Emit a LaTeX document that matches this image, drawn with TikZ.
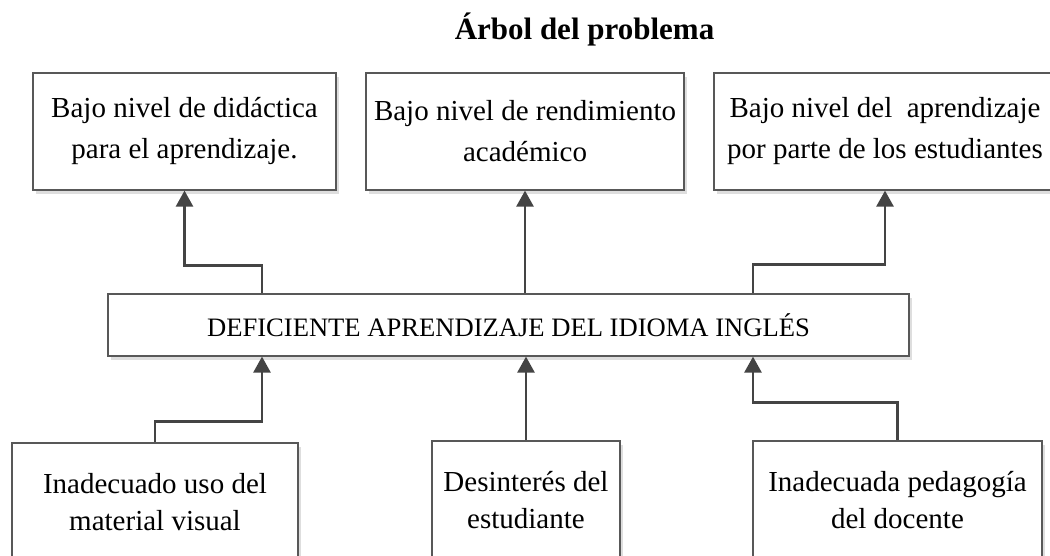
\documentclass[tikz,border=0pt]{standalone}
\usepackage{fontspec}
\setmainfont{Liberation Serif}
\usepackage{tikz}
\usetikzlibrary{arrows.meta,shadows}

\definecolor{boxline}{RGB}{88,88,88}
\definecolor{arrline}{RGB}{68,68,68}

\tikzset{
	caja/.style={draw=boxline,line width=1.2pt,fill=white,align=center,inner sep=0pt,
		drop shadow={shadow xshift=3pt,shadow yshift=-4pt,fill=black!13,opacity=1}},
	efecto/.style={caja,minimum height=117pt,font=\fontsize{29}{41}\selectfont},
	causa/.style={caja,minimum height=118pt,font=\fontsize{29}{37}\selectfont},
	flecha/.style={draw=arrline,line width=2.6pt,-{Triangle[width=17pt,length=16pt]}}
}

\begin{document}
\begin{tikzpicture}[x=1pt,y=1pt,yscale=-1,xscale=1]
				\useasboundingbox (0,0) rectangle (1050,555);
				
				% Text Node
				\node [anchor=base,font=\fontsize{31}{36}\selectfont\bfseries] (titulo) at (584.5,39) {Árbol del problema};
				
				%Shape: efectos
				\node [efecto,minimum width=303pt] (efA) at (184.5,131.5) {Bajo nivel de didáctica\\para el aprendizaje.};
				\node [efecto,minimum width=318pt] (efB) at (525,131.5) {Bajo nivel de rendimiento\\académico};
				\node [efecto,minimum width=342pt] (efC) at (885,131.5) {Bajo nivel del\ \ aprendizaje\\por parte de los estudiantes};
				
				%Shape: problema central
				\node [caja,minimum width=801pt,minimum height=62pt,font=\fontsize{26.6}{30}\selectfont] (prob) at (508.5,325) {DEFICIENTE APRENDIZAJE DEL IDIOMA INGLÉS};
				
				%Shape: causas
				\node [causa,minimum width=286pt] (caA) at (155,502) {Inadecuado uso del\\material visual};
				\node [causa,minimum width=188pt] (caB) at (526,500) {Desinterés del\\estudiante};
				\node [causa,minimum width=289pt] (caC) at (897.5,500) {Inadecuada pedagogía\\del docente};
				
				%Straight Lines: problema -> efectos
				\draw [flecha] ([xshift=-246.5pt]prob.north) -- ++(0,-28) -| (efA.south);
				\draw [flecha] (prob.north -| efB.south) -- (efB.south);
				\draw [flecha] ([xshift=244.5pt]prob.north) -- ++(0,-29) -| (efC.south);
				
				%Straight Lines: causas -> problema
				\draw [flecha] (caA.north) -- ++(0,-21) -| ([xshift=-246.5pt]prob.south);
				\draw [flecha] (caB.north) -- (prob.south -| caB.north);
				\draw [flecha] (caC.north) -- ++(0,-38) -| ([xshift=244.5pt]prob.south);
\end{tikzpicture}
\end{document}
